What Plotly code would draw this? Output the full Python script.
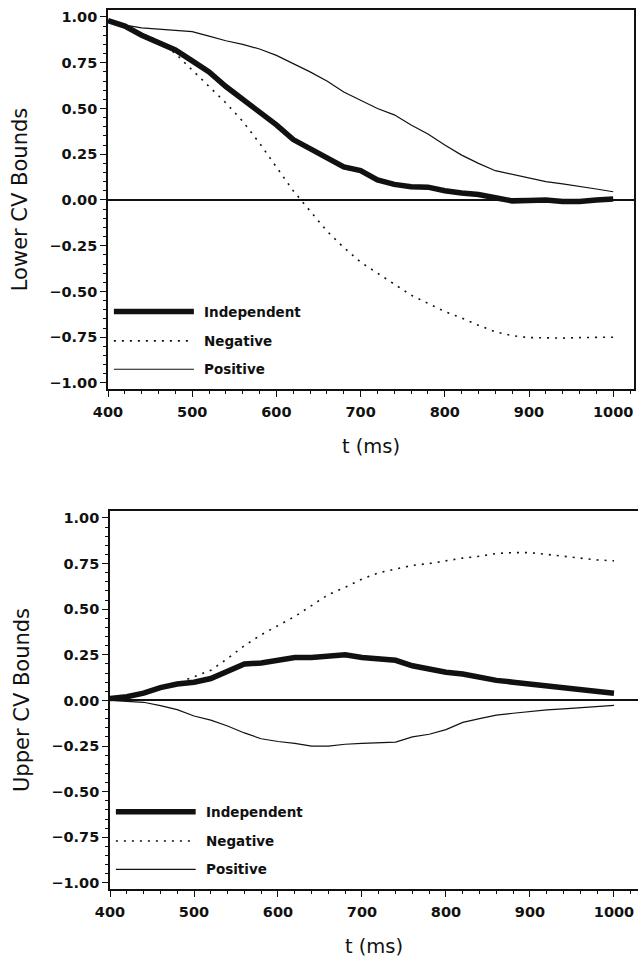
import plotly.graph_objects as go

t = [400, 420, 440, 460, 480, 500, 520, 540, 560, 580, 600, 620, 640, 660, 680, 700,
     720, 740, 760, 780, 800, 820, 840, 860, 880, 900, 920, 940, 960, 980, 1000]

lower_independent = [0.98, 0.95, 0.90, 0.86, 0.82, 0.76, 0.70, 0.62, 0.55, 0.48, 0.41, 0.33, 0.28,
                     0.23, 0.18, 0.16, 0.11, 0.085, 0.072, 0.07, 0.05, 0.038, 0.03, 0.012, -0.005,
                     -0.003, 0.0, -0.008, -0.008, 0.0, 0.005]
lower_negative = [0.98, 0.95, 0.91, 0.87, 0.80, 0.71, 0.62, 0.53, 0.43, 0.31, 0.18, 0.05, -0.06,
                  -0.17, -0.26, -0.34, -0.40, -0.46, -0.52, -0.565, -0.61, -0.645, -0.685, -0.72,
                  -0.742, -0.752, -0.755, -0.755, -0.752, -0.75, -0.75]
lower_positive = [0.98, 0.955, 0.94, 0.932, 0.928, 0.92, 0.895, 0.87, 0.85, 0.825, 0.79, 0.745,
                  0.70, 0.65, 0.59, 0.545, 0.50, 0.465, 0.41, 0.36, 0.30, 0.245, 0.20, 0.16, 0.14,
                  0.12, 0.10, 0.088, 0.072, 0.06, 0.045]

upper_independent = [0.01, 0.02, 0.04, 0.07, 0.09, 0.10, 0.12, 0.16, 0.20, 0.205, 0.22, 0.235,
                     0.235, 0.245, 0.25, 0.235, 0.23, 0.22, 0.19, 0.17, 0.155, 0.145, 0.125, 0.11,
                     0.10, 0.09, 0.075, 0.07, 0.06, 0.05, 0.04]
upper_negative = [0.01, 0.02, 0.04, 0.07, 0.095, 0.13, 0.165, 0.23, 0.30, 0.36, 0.41, 0.46, 0.52,
                  0.58, 0.62, 0.665, 0.70, 0.72, 0.74, 0.75, 0.765, 0.78, 0.79, 0.805, 0.81, 0.81,
                  0.80, 0.79, 0.78, 0.77, 0.765]
upper_positive = [0.0, -0.003, -0.01, -0.028, -0.05, -0.085, -0.108, -0.14, -0.178, -0.21, -0.225,
                  -0.235, -0.25, -0.25, -0.24, -0.235, -0.233, -0.228, -0.20, -0.185, -0.16, -0.12,
                  -0.10, -0.08, -0.07, -0.06, -0.052, -0.046, -0.04, -0.033, -0.027]

series_names = ["Independent", "Negative", "Positive"]
y_titles = ["Lower CV Bounds", "Upper CV Bounds"]
x_title = "t (ms)"

INK = "#111111"
styles = {
    "Independent": dict(color=INK, width=5.5),
    "Negative": dict(color=INK, width=1.6, dash="2px,6px"),
    "Positive": dict(color=INK, width=1.2),
}

fig = go.Figure()
panels = [
    ("x", "y", [lower_independent, lower_negative, lower_positive]),
    ("x2", "y2", [upper_independent, upper_negative, upper_positive]),
]
for xa, ya, data in panels:
    for name, vals in zip(series_names, data):
        fig.add_trace(go.Scatter(x=t, y=vals, mode="lines", name=name, xaxis=xa, yaxis=ya,
                                 line=styles[name], showlegend=False, hoverinfo="skip"))

tick_font = dict(family="DejaVu Sans", size=14.5, color=INK, weight="bold")
xtitle_font = dict(family="DejaVu Sans", size=19.5, color=INK, weight=500)
ytitle_font = dict(family="DejaVu Sans", size=21, color=INK, weight=500)

def xaxis(domain, rng, anchor, mirror):
    return dict(domain=domain, range=rng, anchor=anchor, showgrid=False, zeroline=False,
                automargin=False,
                showline=True, linecolor=INK, linewidth=1.6, mirror=mirror,
                ticks="outside", ticklen=6, tickwidth=1.4, tickcolor=INK,
                ticklabelstandoff=3,
                tickvals=[400, 500, 600, 700, 800, 900, 1000], tickfont=tick_font,
                minor=dict(dtick=20, tick0=400, ticks="outside", ticklen=3, tickwidth=1.2, tickcolor=INK),
                title=dict(text=x_title, font=xtitle_font, standoff=20))

def yaxis(domain, anchor, title):
    return dict(domain=domain, range=[-1.033, 1.038], anchor=anchor, showgrid=False,
                automargin=False,
                zeroline=True, zerolinecolor=INK, zerolinewidth=1.6,
                showline=True, linecolor=INK, linewidth=1.6, mirror=True,
                ticks="outside", ticklen=6, tickwidth=1.4, tickcolor=INK,
                tickvals=[-1, -0.75, -0.5, -0.25, 0, 0.25, 0.5, 0.75, 1], tickformat=".2f",
                tickfont=tick_font,
                minor=dict(dtick=0.05, tick0=0, ticks="outside", ticklen=3, tickwidth=1.0, tickcolor=INK),
                title=dict(text=title, font=ytitle_font, standoff=16))

fig.update_layout(
    width=638, height=964, margin=dict(l=0, r=0, t=0, b=0),
    paper_bgcolor="white", plot_bgcolor="white", showlegend=False,
    xaxis=xaxis([108/638, 634/638], [400, 1024.7], "y", True),
    yaxis=yaxis([1 - 389/964, 1 - 10/964], "x", y_titles[0]),
    xaxis2=xaxis([110/638, 1.0], [400, 1028.6], "y2", True),
    yaxis2=yaxis([1 - 889/964, 1 - 511/964], "x2", y_titles[1]),
)

# custom legends (inside lower-left of each panel)
legend_y = [-0.61, -0.77, -0.925]
for xr, yr in [("x", "y"), ("x2", "y2")]:
    for name, ly in zip(series_names, legend_y):
        st = styles[name]
        fig.add_shape(type="line", xref=xr, yref=yr, x0=407, x1=502, y0=ly, y1=ly,
                      line=dict(color=st["color"], width=st["width"], dash=st.get("dash", "solid")))
        fig.add_annotation(xref=xr, yref=yr, x=512, y=ly, text=name, showarrow=False,
                           xanchor="left", yanchor="middle",
                           font=dict(family="DejaVu Sans", size=13.5, color=INK, weight="bold"))

fig.write_html("out.html")
